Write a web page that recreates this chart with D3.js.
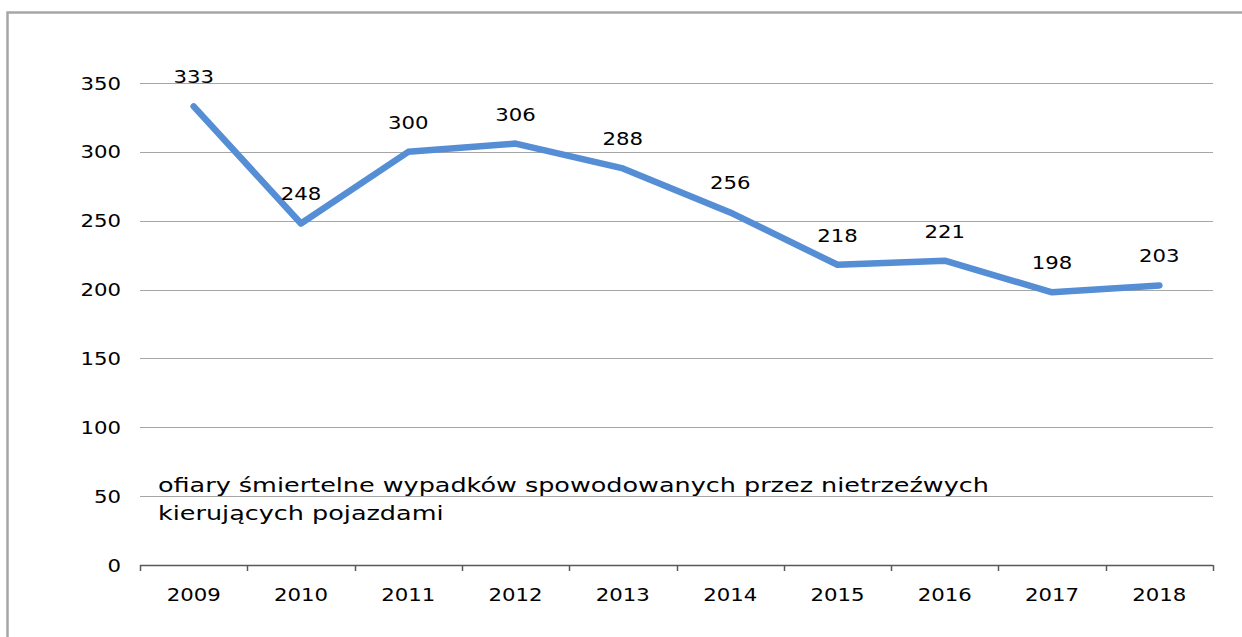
<!DOCTYPE html>
<html>
<head>
<meta charset="utf-8">
<script src="https://cdn.jsdelivr.net/npm/d3@7"></script>
<style>
  html, body { margin: 0; padding: 0; background: #fff; }
  svg { display: block; }
  text { font-family: "DejaVu Sans", Verdana, sans-serif; fill: #000; }
</style>
</head>
<body>
<svg id="chart" width="1242" height="637"></svg>
<script>
// Fatalities in accidents caused by drunk drivers, 2009–2018
const years = ["2009", "2010", "2011", "2012", "2013", "2014", "2015", "2016", "2017", "2018"];
const fatalities = [333, 248, 300, 306, 288, 256, 218, 221, 198, 203];
const yTicks = [0, 50, 100, 150, 200, 250, 300, 350];
const seriesLabel = ["ofiary śmiertelne wypadków spowodowanych przez nietrzeźwych", "kierujących pojazdami"];

const W = 1242, H = 637;
const plot = { left: 140, right: 1213, top: 83, bottom: 565 };
const fontSize = 18;
const stretch = 1.18; // horizontal text widening

const svg = d3.select("#chart");

// outer frame
svg.append("rect")
  .attr("x", 7.5).attr("y", 12.5)
  .attr("width", W + 20).attr("height", H + 20)
  .attr("fill", "none").attr("stroke", "#a6a6a6").attr("stroke-width", 2.5);

const x = d3.scaleBand().domain(years).range([plot.left, plot.right]).padding(0);
const y = d3.scaleLinear().domain([0, 350]).range([plot.bottom, plot.top]);

function stretchedText(sel, tx, ty, anchor, size = fontSize, sx = stretch) {
  return sel.append("text")
    .attr("transform", `translate(${tx},${ty}) scale(${sx},1)`)
    .attr("text-anchor", anchor)
    .attr("font-size", size);
}

// horizontal gridlines
svg.append("g").selectAll("line")
  .data(yTicks.filter(d => d > 0))
  .join("line")
  .attr("x1", plot.left).attr("x2", plot.right)
  .attr("y1", d => Math.round(y(d)) + 0.5).attr("y2", d => Math.round(y(d)) + 0.5)
  .attr("stroke", "#a6a6a6").attr("stroke-width", 1.2);

// y-axis labels
const yLab = svg.append("g");
yTicks.forEach(t => {
  stretchedText(yLab, 121, y(t) + 6.5, "end").text(t);
});

// x axis line and category boundary ticks
const xAxis = svg.append("g");
xAxis.append("line")
  .attr("x1", plot.left).attr("x2", plot.right)
  .attr("y1", plot.bottom + 0.5).attr("y2", plot.bottom + 0.5)
  .attr("stroke", "#595959").attr("stroke-width", 1.5);
const bounds = years.map(d => x(d)).concat([x(years[years.length - 1]) + x.bandwidth()]);
xAxis.selectAll("line.tick")
  .data(bounds)
  .join("line")
  .attr("class", "tick")
  .attr("x1", d => Math.round(d) + 0.5).attr("x2", d => Math.round(d) + 0.5)
  .attr("y1", plot.bottom).attr("y2", plot.bottom + 6)
  .attr("stroke", "#595959").attr("stroke-width", 1.5);
years.forEach(yr => {
  stretchedText(xAxis, x(yr) + x.bandwidth() / 2, 601, "middle").text(yr);
});

// series line
const line = d3.line()
  .x((d, i) => x(years[i]) + x.bandwidth() / 2)
  .y(d => y(d));
svg.append("path")
  .datum(fatalities)
  .attr("d", line)
  .attr("fill", "none")
  .attr("stroke", "#558ed5")
  .attr("stroke-width", 6.5)
  .attr("stroke-linejoin", "round")
  .attr("stroke-linecap", "round");

// value labels
const vLab = svg.append("g");
fatalities.forEach((v, i) => {
  stretchedText(vLab, x(years[i]) + x.bandwidth() / 2, y(v) - 23, "middle").text(v);
});

// series caption
const cap = svg.append("g");
seriesLabel.forEach((s, i) => {
  stretchedText(cap, 158, 492 + i * 28, "start", 20, 1.274).text(s);
});
</script>
</body>
</html>
